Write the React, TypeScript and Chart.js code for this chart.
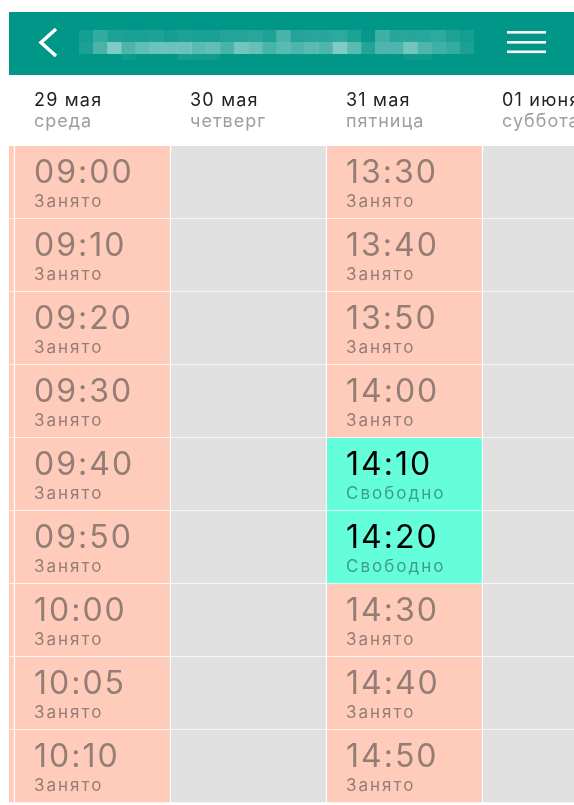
import React, { useEffect, useRef } from 'react';
import { Chart, registerables } from 'chart.js';

Chart.register(...registerables);

// ---- data ----
const dayLabels = ['28 мая', '29 мая', '30 мая', '31 мая', '01 июня'];
const weekdayLabels = ['вторник', 'среда', 'четверг', 'пятница', 'суббота'];

const times28 = ['', '', '', '', '', '', '', '', ''];
const times29 = ['09:00', '09:10', '09:20', '09:30', '09:40', '09:50', '10:00', '10:05', '10:10'];
const times30 = ['', '', '', '', '', '', '', '', ''];
const times31 = ['13:30', '13:40', '13:50', '14:00', '14:10', '14:20', '14:30', '14:40', '14:50'];
const times01 = ['', '', '', '', '', '', '', '', ''];

const status28 = ['busy', 'busy', 'busy', 'busy', 'busy', 'busy', 'busy', 'busy', 'busy'];
const status29 = ['busy', 'busy', 'busy', 'busy', 'busy', 'busy', 'busy', 'busy', 'busy'];
const status30 = ['none', 'none', 'none', 'none', 'none', 'none', 'none', 'none', 'none'];
const status31 = ['busy', 'busy', 'busy', 'busy', 'free', 'free', 'busy', 'busy', 'busy'];
const status01 = ['none', 'none', 'none', 'none', 'none', 'none', 'none', 'none', 'none'];

const statusText: Record<string, string> = { busy: 'Занято', free: 'Свободно', none: '' };

const dayTimes = [times28, times29, times30, times31, times01];
const dayStatus = [status28, status29, status30, status31, status01];

// blurred (pixelated) title shades: white overlay alpha per mosaic cell
const mosaicRow1 = [0.08, 0.2, 0.12, 0.1, 0.1, 0.12, 0.08, 0.12, 0.1, 0.1, 0.14, 0.14, 0.16, 0.12, 0.28, 0.14, 0.16, 0.16, 0.18, 0.12, 0.02, 0.25, 0.16, 0.16, 0.16, 0.18, 0.12, 0.08];
const mosaicRow2 = [0.1, 0.28, 0.5, 0.3, 0.38, 0.42, 0.42, 0.42, 0.35, 0.38, 0.28, 0.45, 0.4, 0.28, 0.35, 0.3, 0.35, 0.3, 0.5, 0.35, 0.14, 0.3, 0.3, 0.45, 0.3, 0.25, 0.2, 0.1];
const mosaicRow3 = [0, 0, 0, 0.06, 0, 0, 0, 0.08, 0.06, 0.06, 0, 0, 0, 0, 0, 0, 0, 0, 0, 0, 0, 0, 0, 0.05, 0.05, 0, 0, 0];

const FONT = 'Inter, "Noto Sans", sans-serif';

function buildPoints(kind: string) {
  const pts: any[] = [];
  dayStatus.forEach((st, d) => {
    st.forEach((s, r) => {
      if (s === kind) pts.push({ x: d, y: [r, r + 1], time: dayTimes[d][r] });
    });
  });
  return pts;
}

const headerPlugin = {
  id: 'appHeader',
  beforeDraw(chart: any) {
    const ctx = chart.ctx as CanvasRenderingContext2D;
    ctx.save();
    ctx.fillStyle = '#ffffff';
    ctx.fillRect(0, 0, chart.width, chart.height);
    // green app bar
    ctx.fillStyle = '#009688';
    ctx.fillRect(9, 12, chart.width - 9, 63);
    // back chevron
    ctx.strokeStyle = '#ffffff';
    ctx.lineWidth = 3.5;
    ctx.lineCap = 'butt';
    ctx.lineJoin = 'miter';
    ctx.beginPath();
    ctx.moveTo(56, 29);
    ctx.lineTo(41, 42.5);
    ctx.lineTo(56, 56);
    ctx.stroke();
    // mosaic title
    const cw = 14.1;
    const rows = [mosaicRow1, mosaicRow2, mosaicRow3];
    const ry = [30, 42, 54];
    const rh = [12, 12, 6];
    rows.forEach((row, ri) => {
      row.forEach((a, ci) => {
        if (a <= 0) return;
        ctx.fillStyle = `rgba(255,255,255,${a})`;
        ctx.fillRect(79 + ci * cw, ry[ri], cw + 0.2, rh[ri]);
      });
    });
    // hamburger
    ctx.fillStyle = '#ffffff';
    [31, 41, 50.5].forEach((y) => ctx.fillRect(507, y, 39, 2.6));
    ctx.restore();
  },
  afterDraw(chart: any) {
    const ctx = chart.ctx as CanvasRenderingContext2D;
    const xs = chart.scales.x;
    ctx.save();
    ctx.textAlign = 'left';
    ctx.textBaseline = 'alphabetic';
    dayLabels.forEach((lbl, i) => {
      const left = xs.getPixelForValue(i - 0.5) + 19;
      ctx.font = `18px ${FONT}`;
      (ctx as any).letterSpacing = '1.2px';
      ctx.fillStyle = '#222222';
      ctx.fillText(lbl, left, 106);
      (ctx as any).letterSpacing = '1px';
      ctx.fillStyle = '#9e9e9e';
      ctx.fillText(weekdayLabels[i], left, 127);
    });
    ctx.restore();
  },
};

const cellTextPlugin = {
  id: 'cellText',
  afterDatasetsDraw(chart: any) {
    const ctx = chart.ctx as CanvasRenderingContext2D;
    const area = chart.chartArea;
    ctx.save();
    ctx.beginPath();
    ctx.rect(area.left, area.top, area.right - area.left, area.bottom - area.top);
    ctx.clip();
    ctx.textAlign = 'left';
    ctx.textBaseline = 'alphabetic';
    chart.data.datasets.forEach((ds: any, di: number) => {
      const meta = chart.getDatasetMeta(di);
      meta.data.forEach((el: any, i: number) => {
        const raw = ds.data[i];
        if (!raw.time) return;
        const left = el.x - el.width / 2 + 19;
        const top = Math.min(el.y, el.base);
        ctx.font = `32px ${FONT}`;
        (ctx as any).letterSpacing = '2px';
        ctx.fillStyle = ds.timeColor;
        ctx.fillText(raw.time, left, top + 37);
        ctx.font = `17px ${FONT}`;
        (ctx as any).letterSpacing = '2px';
        ctx.fillStyle = ds.statusColor;
        ctx.fillText(statusText[ds.kind], left, top + 61);
      });
    });
    ctx.restore();
  },
};

export default function App() {
  const ref = useRef<HTMLCanvasElement | null>(null);
  useEffect(() => {
    if (!ref.current) return;
    const common = {
      grouped: false,
      barPercentage: 1,
      categoryPercentage: 1,
      borderColor: '#ffffff',
      borderWidth: { top: 0, left: 0, right: 1.5, bottom: 1 },
      borderSkipped: false,
    };
    const chart = new Chart(ref.current, {
      type: 'bar',
      data: {
        datasets: [
          { ...common, kind: 'busy', label: 'Занято', data: buildPoints('busy'), backgroundColor: '#ffccbc', timeColor: '#937d75', statusColor: '#937d75' } as any,
          { ...common, kind: 'free', label: 'Свободно', data: buildPoints('free'), backgroundColor: '#64ffda', timeColor: '#000000', statusColor: '#3f9c86' } as any,
          { ...common, kind: 'none', label: '', data: buildPoints('none'), backgroundColor: '#e0e0e0', timeColor: '#000000', statusColor: '#000000' } as any,
        ],
      },
      options: {
        responsive: false,
        animation: false,
        events: [],
        layout: { padding: { left: 9, top: 146, right: 0, bottom: 2 } },
        plugins: { legend: { display: false }, tooltip: { enabled: false } },
        scales: {
          x: {
            type: 'linear',
            display: false,
            offset: false,
            min: 0.4615,
            max: 4.0833,
            ticks: { stepSize: 1, includeBounds: false },
          },
          y: {
            type: 'linear',
            display: false,
            reverse: true,
            min: 0,
            max: 9,
          },
        },
      },
      plugins: [headerPlugin, cellTextPlugin],
    });
    return () => chart.destroy();
  }, []);
  return (
    <div style={{ position: 'absolute', left: 0, top: 0, width: 574, height: 805 }}>
      <canvas ref={ref} width={574} height={805} style={{ display: 'block' }} />
    </div>
  );
}
